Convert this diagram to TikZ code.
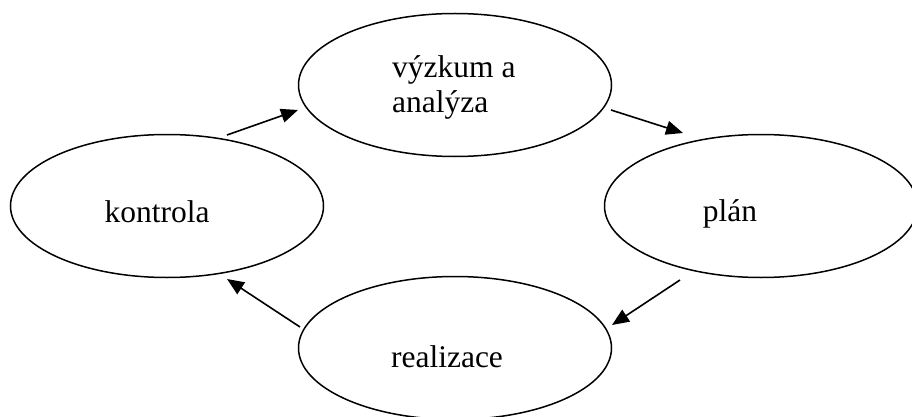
\documentclass[tikz,border=0pt]{standalone}
\usepackage{fontspec}
\setmainfont{Liberation Serif}
\usetikzlibrary{shapes.geometric,arrows.meta}
\begin{document}
\begin{tikzpicture}[x=1pt,y=-1pt,
  phase/.style={draw, ellipse, line width=1.5pt, minimum width=313pt, minimum height=143pt, inner sep=0pt},
  lbl/.style={font=\fontsize{31.5}{35}\selectfont, inner sep=0pt},
  flow/.style={line width=1.6pt, -{Triangle[length=17pt,width=14pt]}}]
  \useasboundingbox (0,0) rectangle (912,417);
  \clip (0,0) rectangle (912,417);

  % the four phases of the cycle
  \node[phase] (vyzkum) at (455,85) {};
  \node[phase] (plan)   at (761,206) {};
  \node[phase] (real)   at (455,348) {};
  \node[phase] (kontr)  at (167,206) {};

  % labels
  \node[lbl, anchor=base west] (tv1) at (392,78) {výzkum a};
  \node[lbl, anchor=base west] (tv2) at (392,113) {analýza};
  \node[lbl, anchor=base] (tp) at (730,221) {plán};
  \node[lbl, anchor=base] (tr) at (447,367) {realizace};
  \node[lbl, anchor=base] (tk) at (157,222) {kontrola};

  % arrow end points between the ellipses
  \coordinate (a1s) at (227,135); \coordinate (a1e) at (298,110);
  \coordinate (a2s) at (611,110); \coordinate (a2e) at (683,133);
  \coordinate (a3s) at (680,280); \coordinate (a3e) at (612,325);
  \coordinate (a4s) at (300,327); \coordinate (a4e) at (227,279);

  \draw[flow] (a1s) -- (a1e);
  \draw[flow] (a2s) -- (a2e);
  \draw[flow] (a3s) -- (a3e);
  \draw[flow] (a4s) -- (a4e);
\end{tikzpicture}
\end{document}
